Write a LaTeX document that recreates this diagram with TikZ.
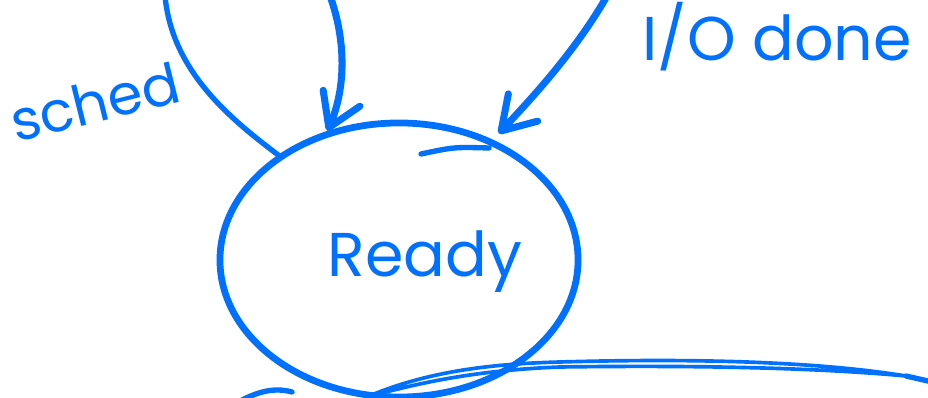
\documentclass[tikz,border=0pt]{standalone}
\usepackage{fontspec}
\setmainfont{Poppins}
\usetikzlibrary{positioning,arrows.meta,shapes.geometric}
\definecolor{ink}{RGB}{0,112,255}
\tikzset{
  figstate/.style={ellipse, draw=ink, line width=4.8pt, minimum width=8.95cm,
    minimum height=6.85cm, inner sep=0pt},
  figtext/.style={text=ink, inner sep=0pt, font=\fontsize{44}{48}\selectfont},
  figarrow/.style={draw=ink, line width=5pt, line cap=round,
    -{Straight Barb[length=8mm, width=10mm, round]}},
  figline/.style={draw=ink, line width=3.8pt, line cap=round},
  figthin/.style={draw=ink, line width=2.6pt, line cap=round, line join=round},
}

\begin{document}
\begin{tikzpicture}[x=0.025cm, y=-0.025cm]
  \useasboundingbox (0,0) rectangle (928,398);
  % state
  \node[figstate] (ready) at (399,260) {};
  \node[figtext] (readytxt) at (425,262) {Ready};
  \draw[figline] ([shift={(22,-106)}]ready.center) .. controls ([shift={(55,-113)}]ready.center) .. ([shift={(90,-112)}]ready.center);
  % free ends outside the frame
  \coordinate (schedtop) at (165,-4);
  \coordinate (fromtop) at (330,-4);
  \coordinate (iotop) at (607,-4);
  \coordinate (outright) at (906,376);
  \coordinate (outleft) at (242,400);
  % edges
  \draw[figline] (ready.139) .. controls (232,120) and (172,72) .. (schedtop);
  \draw[figarrow] (fromtop) .. controls (346,40) and (346,88) .. (ready.119);
  \draw[figarrow, shorten >=6pt] (iotop) .. controls (575,52) and (530,100) .. (ready.52);
  \draw[figthin] (ready.-104) .. controls (420,374) and (480,364) .. (560,362)
    .. controls (700,358) and (820,362) .. (outright)
    .. controls (820,368) and (700,365) .. (560,367)
    .. controls (480,370) and (420,382) .. (ready.-104);
  \draw[figline] (outright) -- ++(22,5);
  \draw[figline] (outleft) .. controls (258,392) and (274,387) .. (292,392);
  % labels
  \node[figtext, rotate=14, font=\fontsize{40}{44}\selectfont] (sched) at (95,102) {sched};
  \node[figtext] (iodone) at (777,37) {I/O done};
\end{tikzpicture}
\end{document}
